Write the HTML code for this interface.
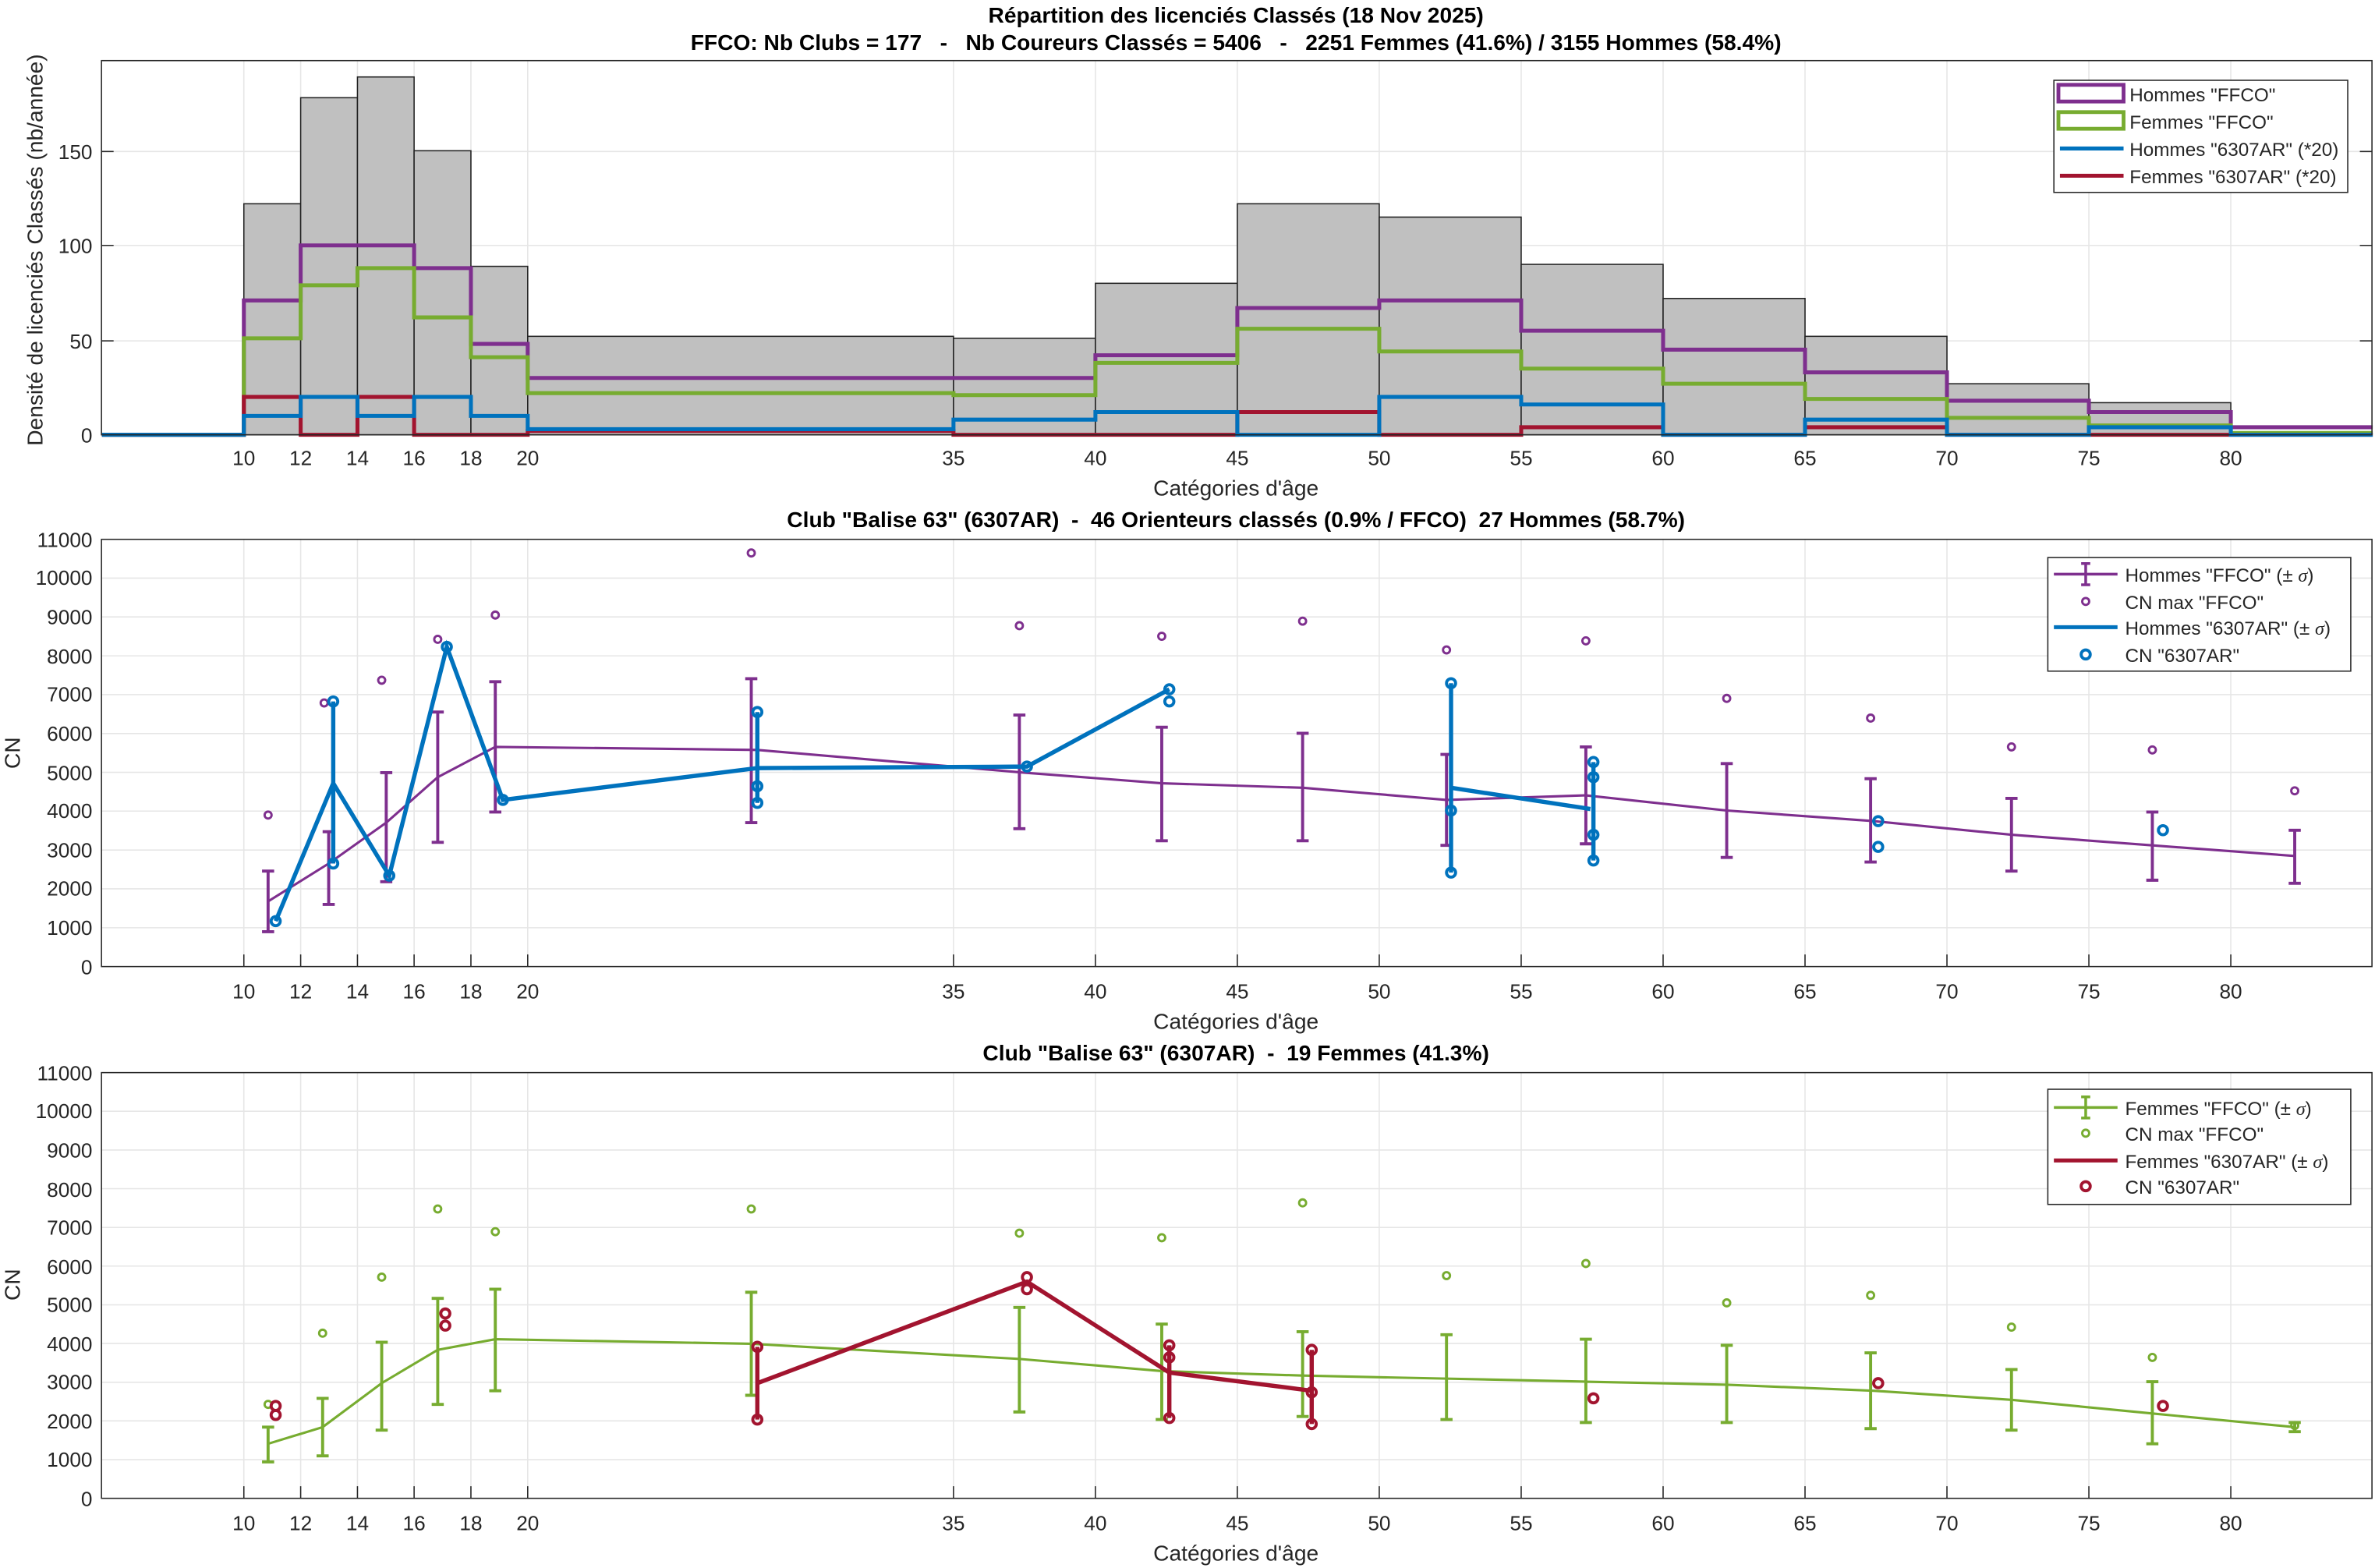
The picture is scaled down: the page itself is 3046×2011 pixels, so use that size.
<!DOCTYPE html>
<html><head><meta charset="utf-8"><style>
html,body{margin:0;padding:0;background:#fff;}
svg{display:block;}
text{font-family:"Liberation Sans",sans-serif;fill:#262626;white-space:pre;}
.t{font-size:13.5px;}
.b{font-weight:bold;font-size:14.5px;fill:#000;}
.g{stroke:#e6e6e6;stroke-width:0.8;fill:none;}
.ax{stroke:#262626;stroke-width:0.8;fill:none;}
.l{font-size:12.5px;fill:#000;}
</style></head><body>
<svg width="3046" height="2011" viewBox="0 0 1568 1035" preserveAspectRatio="none" xmlns="http://www.w3.org/2000/svg" xml:space="preserve">
<rect width="1568" height="1035" fill="#fff"/>
<!-- ============ TOP ============ -->
<text class="b" x="816" y="15" text-anchor="middle">Répartition des licenciés Classés (18 Nov 2025)</text>
<text class="b" x="816" y="33" text-anchor="middle">FFCO: Nb Clubs = 177   -   Nb Coureurs Classés = 5406   -   2251 Femmes (41.6%) / 3155 Hommes (58.4%)</text>
<g class="g">
<path d="M161 40V287M198.5 40V287M236 40V287M273.4 40V287M310.9 40V287M348.4 40V287M629.5 40V287M723.2 40V287M816.9 40V287M910.6 40V287M1004.3 40V287M1098 40V287M1191.7 40V287M1285.4 40V287M1379.1 40V287M1472.8 40V287"/>
<path d="M67 225H1566M67 162H1566M67 100H1566"/>
</g>
<g fill="#c0c0c0" stroke="#222" stroke-width="0.8">
<rect x="161" y="134.5" width="37.5" height="152.5"/>
<rect x="198.5" y="64.5" width="37.5" height="222.5"/>
<rect x="236" y="50.8" width="37.4" height="236.2"/>
<rect x="273.4" y="99.5" width="37.5" height="187.5"/>
<rect x="310.9" y="175.8" width="37.5" height="111.2"/>
<rect x="348.4" y="222" width="281.1" height="65"/>
<rect x="629.5" y="223.3" width="93.7" height="63.7"/>
<rect x="723.2" y="187" width="93.7" height="100"/>
<rect x="816.9" y="134.5" width="93.7" height="152.5"/>
<rect x="910.6" y="143.3" width="93.7" height="143.7"/>
<rect x="1004.3" y="174.5" width="93.7" height="112.5"/>
<rect x="1098" y="197" width="93.7" height="90"/>
<rect x="1191.7" y="222" width="93.7" height="65"/>
<rect x="1285.4" y="253.3" width="93.7" height="33.7"/>
<rect x="1379.1" y="265.8" width="93.7" height="21.2"/>
</g>
<g fill="none" stroke-width="2.6">
<path stroke="#7E2F8E" d="M67.3 287H161V198.3H198.5V162H236V162H273.4V177H310.9V227H348.4V249.5H629.5V249.5H723.2V234.5H816.9V203.3H910.6V198.3H1004.3V218.3H1098V230.8H1191.7V245.8H1285.4V264.5H1379.1V272H1472.8V282H1566.5"/>
<path stroke="#77AC30" d="M67.3 287H161V223.3H198.5V188.3H236V177H273.4V209.5H310.9V235.8H348.4V259.5H629.5V260.8H723.2V239.5H816.9V217H910.6V232H1004.3V243.3H1098V253.3H1191.7V263.3H1285.4V275.8H1379.1V280.8H1472.8V285.8H1566.5"/>
<path stroke="#A2142F" d="M67.3 287H161V262H198.5V287H236V262H273.4V287H348.4V284.5H629.5V287H816.9V272H910.6V287H1004.3V282H1098V287H1191.7V282H1285.4V287H1566.5"/>
<path stroke="#0072BD" d="M67.3 287H161V274.5H198.5V262H236V274.5H273.4V262H310.9V274.5H348.4V283.3H629.5V277H723.2V272H816.9V287H910.6V262H1004.3V267H1098V287H1191.7V277H1285.4V287H1379.1V282H1472.8V287H1566.5"/>
</g>
<rect class="ax" x="67" y="40" width="1499" height="247"/>
<g class="ax"><path d="M67 225h8M67 162h8M67 100h8M1566 225h-8M1566 162h-8M1566 100h-8"/></g>
<g class="t" text-anchor="middle">
<text x="161" y="307">10</text><text x="198.5" y="307">12</text><text x="236" y="307">14</text><text x="273.4" y="307">16</text><text x="310.9" y="307">18</text><text x="348.4" y="307">20</text><text x="629.5" y="307">35</text><text x="723.2" y="307">40</text><text x="816.9" y="307">45</text><text x="910.6" y="307">50</text><text x="1004.3" y="307">55</text><text x="1098" y="307">60</text><text x="1191.7" y="307">65</text><text x="1285.4" y="307">70</text><text x="1379.1" y="307">75</text><text x="1472.8" y="307">80</text>
</g>
<g class="t" text-anchor="end"><text x="61" y="292">0</text><text x="61" y="230">50</text><text x="61" y="167">100</text><text x="61" y="105">150</text></g>
<text class="t" x="816" y="327" text-anchor="middle" style="font-size:14.5px">Catégories d'âge</text>
<text class="t" transform="translate(28,165) rotate(-90)" text-anchor="middle" style="font-size:14.5px">Densité de licenciés Classés (nb/année)</text>
<rect x="1356" y="53" width="194" height="74" fill="#fff" stroke="#262626" stroke-width="0.8"/>
<rect x="1359" y="56" width="43" height="11" fill="#fff" stroke="#7E2F8E" stroke-width="2.5"/>
<rect x="1359" y="74" width="43" height="11" fill="#fff" stroke="#77AC30" stroke-width="2.5"/>
<path d="M1360 98h42" stroke="#0072BD" stroke-width="2.6"/>
<path d="M1360 116h42" stroke="#A2142F" stroke-width="2.6"/>
<g class="l"><text x="1406" y="67">Hommes "FFCO"</text><text x="1406" y="85">Femmes "FFCO"</text><text x="1406" y="103">Hommes "6307AR" (*20)</text><text x="1406" y="121">Femmes "6307AR" (*20)</text></g>

<!-- ============ MIDDLE ============ -->
<text class="b" x="816" y="348" text-anchor="middle">Club "Balise 63" (6307AR)  -  46 Orienteurs classés (0.9% / FFCO)  27 Hommes (58.7%)</text>
<g class="g">
<path d="M161 356V638M198.5 356V638M236 356V638M273.4 356V638M310.9 356V638M348.4 356V638M629.5 356V638M723.2 356V638M816.9 356V638M910.6 356V638M1004.3 356V638M1098 356V638M1191.7 356V638M1285.4 356V638M1379.1 356V638M1472.8 356V638"/>
<path d="M67 612.4H1566M67 586.7H1566M67 561.1H1566M67 535.4H1566M67 509.8H1566M67 484.2H1566M67 458.5H1566M67 432.9H1566M67 407.2H1566M67 381.6H1566"/>
</g>
<g stroke="#7E2F8E" stroke-width="1.6" fill="none">
<path d="M177 595L217 570L255 543L289 513L327 493L500 495L676 510L767 517L860 520L955 528L1047 525L1140 535L1237 542L1328 551L1421 558L1515 565"/>
<path d="M177 575V615M173 575h8M173 615h8 M217 549V597M213 549h8M213 597h8 M255 510V582M251 510h8M251 582h8 M289 470V556M285 470h8M285 556h8 M327 450V536M323 450h8M323 536h8 M496 448V543M492 448h8M492 543h8 M673 472V547M669 472h8M669 547h8 M767 480V555M763 480h8M763 555h8 M860 484V555M856 484h8M856 555h8 M955 498V558M951 498h8M951 558h8 M1047 493V557M1043 493h8M1043 557h8 M1140 504V566M1136 504h8M1136 566h8 M1235 514V569M1231 514h8M1231 569h8 M1328 527V575M1324 527h8M1324 575h8 M1421 536V581M1417 536h8M1417 581h8 M1515 548V583M1511 548h8M1511 583h8" stroke-width="2"/>
</g>
<g stroke="#7E2F8E" stroke-width="1.5" fill="none">
<circle cx="177" cy="538" r="2.3"/><circle cx="214" cy="464" r="2.3"/><circle cx="252" cy="449" r="2.3"/><circle cx="289" cy="422" r="2.3"/><circle cx="327" cy="406" r="2.3"/><circle cx="496" cy="365" r="2.3"/><circle cx="673" cy="413" r="2.3"/><circle cx="767" cy="420" r="2.3"/><circle cx="860" cy="410" r="2.3"/><circle cx="955" cy="429" r="2.3"/><circle cx="1047" cy="423" r="2.3"/><circle cx="1140" cy="461" r="2.3"/><circle cx="1235" cy="474" r="2.3"/><circle cx="1328" cy="493" r="2.3"/><circle cx="1421" cy="495" r="2.3"/><circle cx="1515" cy="522" r="2.3"/>
</g>
<g stroke="#0072BD" stroke-width="2.8" fill="none">
<path d="M182 608L220 517L257 578L295 427L332 528L500 507L678 506L772 455"/>
<path d="M958 520L1050 534"/>
<path d="M220 463V570M500 470V530M958 451V576M1052 503V568"/>
</g>
<g stroke="#0072BD" stroke-width="2" fill="none">
<circle cx="182" cy="608" r="3"/><circle cx="220" cy="463" r="3"/><circle cx="220" cy="570" r="3"/><circle cx="257" cy="578" r="3"/><circle cx="295" cy="427" r="3"/><circle cx="332" cy="528" r="3"/><circle cx="500" cy="470" r="3"/><circle cx="500" cy="519" r="3"/><circle cx="500" cy="530" r="3"/><circle cx="678" cy="506" r="3"/><circle cx="772" cy="455" r="3"/><circle cx="772" cy="463" r="3"/><circle cx="958" cy="451" r="3"/><circle cx="958" cy="535" r="3"/><circle cx="958" cy="576" r="3"/><circle cx="1052" cy="503" r="3"/><circle cx="1052" cy="513" r="3"/><circle cx="1052" cy="551" r="3"/><circle cx="1052" cy="568" r="3"/><circle cx="1240" cy="542" r="3"/><circle cx="1240" cy="559" r="3"/><circle cx="1428" cy="548" r="3"/>
</g>
<rect class="ax" x="67" y="356" width="1499" height="282"/>
<g class="ax"><path d="M161 638v-8M198.5 638v-8M236 638v-8M273.4 638v-8M310.9 638v-8M348.4 638v-8M629.5 638v-8M723.2 638v-8M816.9 638v-8M910.6 638v-8M1004.3 638v-8M1098 638v-8M1191.7 638v-8M1285.4 638v-8M1379.1 638v-8M1472.8 638v-8"/></g>
<g class="t" text-anchor="middle">
<text x="161" y="659">10</text><text x="198.5" y="659">12</text><text x="236" y="659">14</text><text x="273.4" y="659">16</text><text x="310.9" y="659">18</text><text x="348.4" y="659">20</text><text x="629.5" y="659">35</text><text x="723.2" y="659">40</text><text x="816.9" y="659">45</text><text x="910.6" y="659">50</text><text x="1004.3" y="659">55</text><text x="1098" y="659">60</text><text x="1191.7" y="659">65</text><text x="1285.4" y="659">70</text><text x="1379.1" y="659">75</text><text x="1472.8" y="659">80</text>
</g>
<g class="t" text-anchor="end">
<text x="61" y="643">0</text><text x="61" y="617">1000</text><text x="61" y="591">2000</text><text x="61" y="566">3000</text><text x="61" y="540">4000</text><text x="61" y="515">5000</text><text x="61" y="489">6000</text><text x="61" y="463">7000</text><text x="61" y="438">8000</text><text x="61" y="412">9000</text><text x="61" y="386">10000</text><text x="61" y="361">11000</text>
</g>
<text class="t" x="816" y="679" text-anchor="middle" style="font-size:14.5px">Catégories d'âge</text>
<text class="t" transform="translate(13,497) rotate(-90)" text-anchor="middle" style="font-size:14.5px">CN</text>
<rect x="1352" y="368" width="200" height="75" fill="#fff" stroke="#262626" stroke-width="0.8"/>
<path d="M1356 379h42M1377 372v14M1374 372h6M1374 386h6" stroke="#7E2F8E" stroke-width="1.8" fill="none"/>
<circle cx="1377" cy="397" r="2.3" stroke="#7E2F8E" stroke-width="1.5" fill="none"/>
<path d="M1356 414h42" stroke="#0072BD" stroke-width="2.6"/>
<circle cx="1377" cy="432" r="3" stroke="#0072BD" stroke-width="2" fill="none"/>
<g class="l"><text x="1403" y="384">Hommes "FFCO" (± <tspan font-style="italic" font-family="Liberation Serif">σ</tspan>)</text><text x="1403" y="402">CN max "FFCO"</text><text x="1403" y="419">Hommes "6307AR" (± <tspan font-style="italic" font-family="Liberation Serif">σ</tspan>)</text><text x="1403" y="437">CN "6307AR"</text></g>

<!-- ============ BOTTOM ============ -->
<text class="b" x="816" y="700" text-anchor="middle">Club "Balise 63" (6307AR)  -  19 Femmes (41.3%)</text>
<g class="g">
<path d="M161 708V989M198.5 708V989M236 708V989M273.4 708V989M310.9 708V989M348.4 708V989M629.5 708V989M723.2 708V989M816.9 708V989M910.6 708V989M1004.3 708V989M1098 708V989M1191.7 708V989M1285.4 708V989M1379.1 708V989M1472.8 708V989"/>
<path d="M67 963.5H1566M67 937.9H1566M67 912.4H1566M67 886.8H1566M67 861.3H1566M67 835.7H1566M67 810.2H1566M67 784.6H1566M67 759.1H1566M67 733.5H1566"/>
</g>
<g stroke="#77AC30" stroke-width="1.6" fill="none">
<path d="M177 953L213 942L252 913L289 891L327 884L496 887L673 897L767 905L860 908L955 910L1047 912L1140 914L1237 918L1328 924L1421 933L1515 942"/>
<path stroke-width="2" d="M177 942V965M173 942h8M173 965h8 M213 923V961M209 923h8M209 961h8 M252 886V944M248 886h8M248 944h8 M289 857V927M285 857h8M285 927h8 M327 851V918M323 851h8M323 918h8 M496 853V921M492 853h8M492 921h8 M673 863V932M669 863h8M669 932h8 M767 874V937M763 874h8M763 937h8 M860 879V935M856 879h8M856 935h8 M955 881V937M951 881h8M951 937h8 M1047 884V939M1043 884h8M1043 939h8 M1140 888V939M1136 888h8M1136 939h8 M1235 893V943M1231 893h8M1231 943h8 M1328 904V944M1324 904h8M1324 944h8 M1421 912V953M1417 912h8M1417 953h8 M1515 939V945M1511 939h8M1511 945h8"/>
</g>
<g stroke="#77AC30" stroke-width="1.5" fill="none">
<circle cx="177" cy="927" r="2.3"/><circle cx="213" cy="880" r="2.3"/><circle cx="252" cy="843" r="2.3"/><circle cx="289" cy="798" r="2.3"/><circle cx="327" cy="813" r="2.3"/><circle cx="496" cy="798" r="2.3"/><circle cx="673" cy="814" r="2.3"/><circle cx="767" cy="817" r="2.3"/><circle cx="860" cy="794" r="2.3"/><circle cx="955" cy="842" r="2.3"/><circle cx="1047" cy="834" r="2.3"/><circle cx="1140" cy="860" r="2.3"/><circle cx="1235" cy="855" r="2.3"/><circle cx="1328" cy="876" r="2.3"/><circle cx="1421" cy="896" r="2.3"/><circle cx="1515" cy="941" r="2.3"/>
</g>
<g stroke="#A2142F" stroke-width="2.8" fill="none">
<path d="M500 913L678 846L772 906L866 918"/>
<path d="M500 889V937M772 888V936M866 891V940"/>
</g>
<g stroke="#A2142F" stroke-width="2" fill="none">
<circle cx="182" cy="928" r="3"/><circle cx="182" cy="934" r="3"/><circle cx="294" cy="867" r="3"/><circle cx="294" cy="875" r="3"/><circle cx="500" cy="889" r="3"/><circle cx="500" cy="937" r="3"/><circle cx="678" cy="843" r="3"/><circle cx="678" cy="851" r="3"/><circle cx="772" cy="888" r="3"/><circle cx="772" cy="896" r="3"/><circle cx="772" cy="936" r="3"/><circle cx="866" cy="891" r="3"/><circle cx="866" cy="919" r="3"/><circle cx="866" cy="940" r="3"/><circle cx="1052" cy="923" r="3"/><circle cx="1240" cy="913" r="3"/><circle cx="1428" cy="928" r="3"/>
</g>
<rect class="ax" x="67" y="708" width="1499" height="281"/>
<g class="ax"><path d="M161 989v-8M198.5 989v-8M236 989v-8M273.4 989v-8M310.9 989v-8M348.4 989v-8M629.5 989v-8M723.2 989v-8M816.9 989v-8M910.6 989v-8M1004.3 989v-8M1098 989v-8M1191.7 989v-8M1285.4 989v-8M1379.1 989v-8M1472.8 989v-8"/></g>
<g class="t" text-anchor="middle">
<text x="161" y="1010">10</text><text x="198.5" y="1010">12</text><text x="236" y="1010">14</text><text x="273.4" y="1010">16</text><text x="310.9" y="1010">18</text><text x="348.4" y="1010">20</text><text x="629.5" y="1010">35</text><text x="723.2" y="1010">40</text><text x="816.9" y="1010">45</text><text x="910.6" y="1010">50</text><text x="1004.3" y="1010">55</text><text x="1098" y="1010">60</text><text x="1191.7" y="1010">65</text><text x="1285.4" y="1010">70</text><text x="1379.1" y="1010">75</text><text x="1472.8" y="1010">80</text>
</g>
<g class="t" text-anchor="end">
<text x="61" y="994">0</text><text x="61" y="968">1000</text><text x="61" y="943">2000</text><text x="61" y="917">3000</text><text x="61" y="892">4000</text><text x="61" y="866">5000</text><text x="61" y="841">6000</text><text x="61" y="815">7000</text><text x="61" y="790">8000</text><text x="61" y="764">9000</text><text x="61" y="738">10000</text><text x="61" y="713">11000</text>
</g>
<text class="t" x="816" y="1030" text-anchor="middle" style="font-size:14.5px">Catégories d'âge</text>
<text class="t" transform="translate(13,848) rotate(-90)" text-anchor="middle" style="font-size:14.5px">CN</text>
<rect x="1352" y="719" width="200" height="76" fill="#fff" stroke="#262626" stroke-width="0.8"/>
<path d="M1356 731h42M1377 724v14M1374 724h6M1374 738h6" stroke="#77AC30" stroke-width="1.8" fill="none"/>
<circle cx="1377" cy="748" r="2.3" stroke="#77AC30" stroke-width="1.5" fill="none"/>
<path d="M1356 766h42" stroke="#A2142F" stroke-width="2.6"/>
<circle cx="1377" cy="783" r="3" stroke="#A2142F" stroke-width="2" fill="none"/>
<g class="l"><text x="1403" y="736">Femmes "FFCO" (± <tspan font-style="italic" font-family="Liberation Serif">σ</tspan>)</text><text x="1403" y="753">CN max "FFCO"</text><text x="1403" y="771">Femmes "6307AR" (± <tspan font-style="italic" font-family="Liberation Serif">σ</tspan>)</text><text x="1403" y="788">CN "6307AR"</text></g>
</svg>
</body></html>
